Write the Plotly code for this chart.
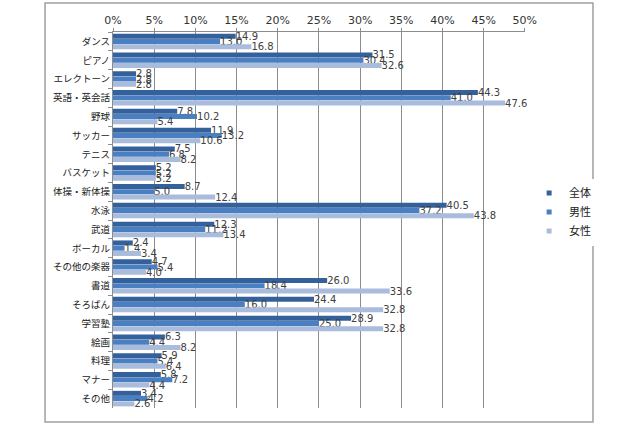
import plotly.graph_objects as go

categories = ["ダンス", "ピアノ", "エレクトーン", "英語・英会話", "野球", "サッカー", "テニス",
              "バスケット", "体操・新体操", "水泳", "武道", "ボーカル", "その他の楽器", "書道",
              "そろばん", "学習塾", "絵画", "料理", "マナー", "その他"]
zentai = [14.9, 31.5, 2.8, 44.3, 7.8, 11.9, 7.5, 5.2, 8.7, 40.5, 12.3, 2.4, 4.7, 26.0, 24.4, 28.9, 6.3, 5.9, 5.8, 3.4]
dansei = [13.0, 30.4, 2.8, 41.0, 10.2, 13.2, 6.8, 5.2, 5.0, 37.2, 11.2, 1.4, 5.4, 18.4, 16.0, 25.0, 4.4, 5.4, 7.2, 4.2]
josei = [16.8, 32.6, 2.8, 47.6, 5.4, 10.6, 8.2, 5.2, 12.4, 43.8, 13.4, 3.4, 4.0, 33.6, 32.8, 32.8, 8.2, 6.4, 4.4, 2.6]
series_names = ["全体", "男性", "女性"]
colors = ["#34609c", "#4a80c2", "#a9bcdc"]
x_ticks = [0, 5, 10, 15, 20, 25, 30, 35, 40, 45, 50]

font = "Noto Sans CJK JP"
fig = go.Figure()
for name, vals, c in zip(series_names, [zentai, dansei, josei], colors):
    fig.add_trace(go.Bar(
        y=categories, x=vals, name=name, orientation="h",
        marker=dict(color=c, line=dict(width=0)),
        text=[f"{v:.1f}" for v in vals], textposition="outside",
        constraintext="none",
        textfont=dict(size=10, color="#404040", family="DejaVu Sans"),
        cliponaxis=False, showlegend=False,
    ))
for name, c in zip(series_names, colors):
    fig.add_trace(go.Scatter(
        x=[None], y=[None], mode="markers", name=name,
        marker=dict(symbol="square", size=5, color=c),
    ))

fig.update_layout(
    width=640, height=426,
    margin=dict(l=113, r=115, t=32, b=18),
    paper_bgcolor="white", plot_bgcolor="white",
    barmode="group", bargap=0.16, bargroupgap=0.05,
    font=dict(family=font, size=10, color="#222222"),
    showlegend=True,
    legend=dict(x=1.01, y=0.521, xanchor="left", yanchor="middle",
                font=dict(size=11, family=font, color="#222222"),
                itemwidth=30, tracegroupgap=0, traceorder="normal"),
    xaxis=dict(side="top", range=[0, 50.02], tickvals=x_ticks,
               ticktext=[f"{t}%" for t in x_ticks],
               showgrid=True, gridcolor="#8c8c8c", gridwidth=1,
               showline=True, linecolor="#8c8c8c", zeroline=False,
               tickfont=dict(size=11, color="#333333", family="DejaVu Sans"),
               ticks="outside", ticklen=3, tickcolor="#8c8c8c", automargin=False),
    yaxis=dict(autorange="reversed", showline=True, linecolor="#8c8c8c",
               ticks="outside", tickson="boundaries", ticklen=4, tickcolor="#8c8c8c",
               tickfont=dict(size=9.5, color="#222222", family=font),
               showgrid=False, automargin=False),
)
fig.add_shape(type="rect", xref="paper", yref="paper",
              x0=-0.165, x1=1.165, y0=-0.037, y1=1.077,
              line=dict(color="#a0a0a0", width=1.5), layer="below")
fig.write_html("out.html", config={"displayModeBar": False},
               post_script="document.body.style.margin='0';")
